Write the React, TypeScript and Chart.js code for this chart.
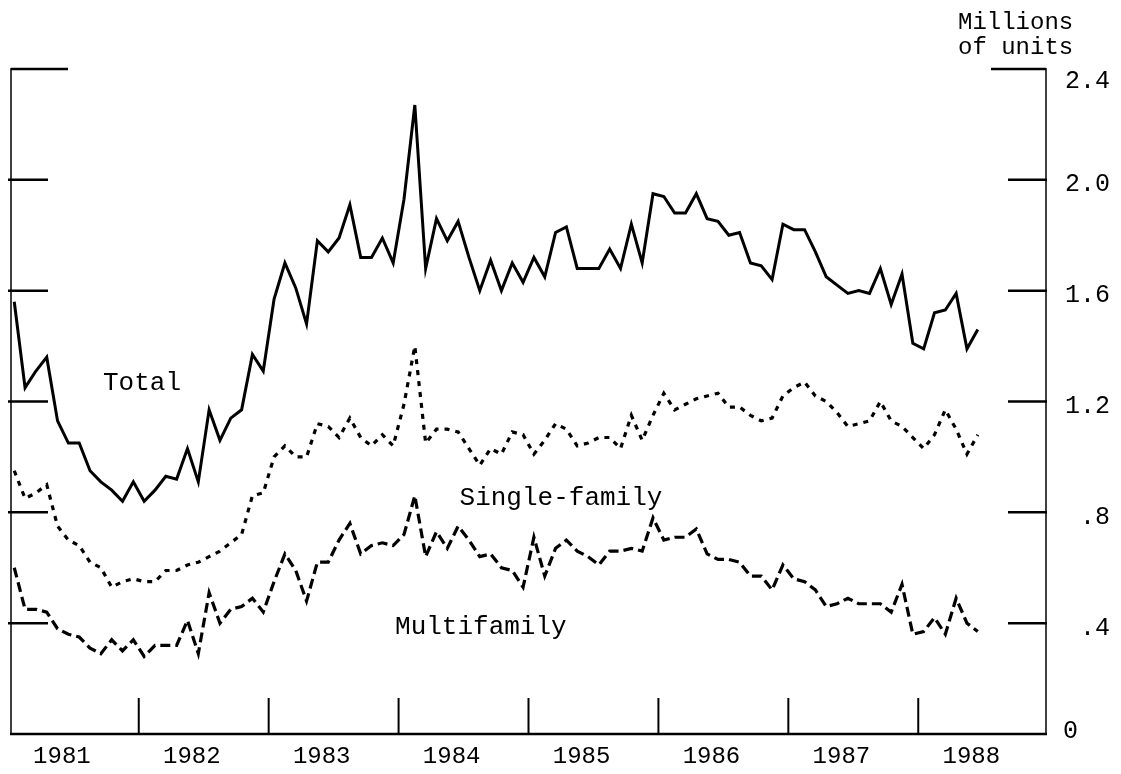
import { useEffect, useRef } from "react";
import { Chart, registerables } from "chart.js";

Chart.register(...registerables);

// ---- Data -------------------------------------------------------------
const years = [1981, 1982, 1983, 1984, 1985, 1986, 1987, 1988];
const monthNames = ["Jan", "Feb", "Mar", "Apr", "May", "Jun", "Jul", "Aug", "Sep", "Oct", "Nov", "Dec"];
// Monthly observations, January 1981 through June 1988
const months = years.flatMap((y) => monthNames.map((m) => `${m} ${y}`)).slice(0, 90);

// Housing starts, millions of units (seasonally adjusted annual rate)
const total = [
  1.56, 1.25, 1.31, 1.36, 1.13, 1.05, 1.05, 0.95, 0.91, 0.88, 0.84, 0.91,
  0.84, 0.88, 0.93, 0.92, 1.03, 0.91, 1.17, 1.06, 1.14, 1.17, 1.37, 1.31,
  1.57, 1.70, 1.61, 1.48, 1.78, 1.74, 1.79, 1.91, 1.72, 1.72, 1.79, 1.70,
  1.93, 2.27, 1.68, 1.86, 1.78, 1.85, 1.72, 1.60, 1.71, 1.60, 1.70, 1.63,
  1.72, 1.65, 1.81, 1.83, 1.68, 1.68, 1.68, 1.75, 1.68, 1.84, 1.70, 1.95,
  1.94, 1.88, 1.88, 1.95, 1.86, 1.85, 1.80, 1.81, 1.70, 1.69, 1.64, 1.84,
  1.82, 1.82, 1.74, 1.65, 1.62, 1.59, 1.60, 1.59, 1.68, 1.55, 1.66, 1.41,
  1.39, 1.52, 1.53, 1.59, 1.39, 1.46,
];

const singleFamily = [
  0.95, 0.85, 0.87, 0.90, 0.75, 0.70, 0.68, 0.62, 0.60, 0.53, 0.55, 0.56,
  0.55, 0.55, 0.59, 0.59, 0.61, 0.62, 0.64, 0.66, 0.69, 0.72, 0.86, 0.87,
  1.00, 1.04, 1.00, 1.00, 1.12, 1.11, 1.07, 1.14, 1.07, 1.04, 1.08, 1.04,
  1.19, 1.40, 1.05, 1.10, 1.10, 1.09, 1.03, 0.97, 1.03, 1.01, 1.09, 1.08,
  1.01, 1.06, 1.12, 1.10, 1.04, 1.05, 1.07, 1.07, 1.03, 1.15, 1.06, 1.15,
  1.23, 1.17, 1.19, 1.21, 1.22, 1.23, 1.18, 1.18, 1.15, 1.13, 1.14, 1.22,
  1.25, 1.27, 1.22, 1.20, 1.16, 1.11, 1.12, 1.13, 1.20, 1.13, 1.11, 1.07,
  1.03, 1.08, 1.17, 1.10, 1.01, 1.08,
];

const multifamily = [
  0.60, 0.45, 0.45, 0.44, 0.38, 0.36, 0.35, 0.31, 0.29, 0.34, 0.30, 0.34,
  0.28, 0.32, 0.32, 0.32, 0.41, 0.29, 0.51, 0.40, 0.45, 0.46, 0.49, 0.44,
  0.55, 0.65, 0.59, 0.48, 0.62, 0.62, 0.70, 0.76, 0.65, 0.68, 0.69, 0.68,
  0.72, 0.86, 0.64, 0.73, 0.67, 0.75, 0.70, 0.64, 0.65, 0.60, 0.59, 0.53,
  0.71, 0.57, 0.67, 0.70, 0.66, 0.64, 0.61, 0.66, 0.66, 0.67, 0.66, 0.78,
  0.70, 0.71, 0.71, 0.74, 0.65, 0.63, 0.63, 0.62, 0.57, 0.57, 0.52, 0.61,
  0.56, 0.55, 0.52, 0.46, 0.47, 0.49, 0.47, 0.47, 0.47, 0.44, 0.54, 0.36,
  0.37, 0.42, 0.36, 0.49, 0.40, 0.37,
];

const yTicks = [0, 0.4, 0.8, 1.2, 1.6, 2.0, 2.4];
const yTickLabels = ["0", ".4", ".8", "1.2", "1.6", "2.0", "2.4"];
const seriesNames = ["Total", "Single-family", "Multifamily"];
const unitTitle = ["Millions", "of units"];

// ---- Chart ------------------------------------------------------------
const FONT = "'Liberation Mono', 'DejaVu Sans Mono', monospace";

const decorPlugin = {
  id: "decor",
  afterDatasetsDraw(chart: any) {
    const { ctx, chartArea: a, scales } = chart;
    const xs = scales.x;
    const ys = scales.y;
    const top = ys.getPixelForValue(yTicks[yTicks.length - 1]);
    const bot = ys.getPixelForValue(0);
    const seg = (x1: number, y1: number, x2: number, y2: number, w: number) => {
      ctx.lineWidth = w;
      ctx.beginPath();
      ctx.moveTo(x1, y1);
      ctx.lineTo(x2, y2);
      ctx.stroke();
    };
    ctx.save();
    ctx.strokeStyle = "#000";
    ctx.fillStyle = "#000";
    ctx.lineCap = "butt";

    // frame
    seg(a.left, top - 1, a.left, bot, 1.5);
    seg(a.left, top, a.left + 57, top, 2.5);
    seg(a.right, top - 1, a.right, bot, 1.5);
    seg(a.right - 55, top, a.right, top, 2.5);
    seg(a.left - 1, bot, a.right + 1, bot, 2.5);

    // inward y ticks, both sides
    yTicks.slice(1, -1).forEach((v) => {
      const py = ys.getPixelForValue(v);
      seg(a.left - 3, py, a.left + 37, py, 2.5);
      seg(a.right - 38, py, a.right + 1, py, 2.5);
    });

    // year boundary ticks
    years.slice(1).forEach((_, k) => {
      const px = xs.getPixelForValue(12 * (k + 1) - 0.5);
      seg(px, bot - 36, px, bot, 2);
    });

    // year labels
    ctx.font = `24px ${FONT}`;
    ctx.textAlign = "center";
    ctx.textBaseline = "middle";
    years.forEach((yr, k) => {
      ctx.fillText(String(yr), xs.getPixelForValue(12 * k + 4.4), bot + 23);
    });

    // right-hand value labels
    ctx.font = `25px ${FONT}`;
    yTicks.forEach((v, k) => {
      const py = ys.getPixelForValue(v);
      if (v === 0) {
        ctx.textAlign = "left";
        ctx.fillText(yTickLabels[k], a.right + 17, py - 3);
      } else {
        ctx.textAlign = "right";
        ctx.fillText(yTickLabels[k], a.right + 64, py + (k === yTicks.length - 1 ? 12 : 5));
      }
    });

    // unit title
    ctx.font = `24px ${FONT}`;
    ctx.textAlign = "left";
    ctx.fillText(unitTitle[0], a.right - 88, top - 46);
    ctx.fillText(unitTitle[1], a.right - 88, top - 21);

    // series labels (anchored in data coordinates)
    const anchors = [
      [11.8, 1.267],
      [50.5, 0.852],
      [43.1, 0.386],
    ];
    ctx.font = `26px ${FONT}`;
    ctx.textAlign = "center";
    seriesNames.forEach((name, k) => {
      ctx.fillText(name, xs.getPixelForValue(anchors[k][0]), ys.getPixelForValue(anchors[k][1]));
    });
    ctx.restore();
  },
};

export default function App() {
  const canvasRef = useRef<HTMLCanvasElement | null>(null);

  useEffect(() => {
    const canvas = canvasRef.current;
    if (!canvas) return;
    const toXY = (arr: number[]) => arr.map((v, i) => ({ x: i, y: v, label: months[i] }));
    const chart = new Chart(canvas, {
      type: "line",
      data: {
        datasets: [
          {
            label: seriesNames[0],
            data: toXY(total),
            borderColor: "#000",
            borderWidth: 3,
            pointRadius: 0,
            tension: 0,
            fill: false,
          },
          {
            label: seriesNames[1],
            data: toXY(singleFamily),
            borderColor: "#000",
            borderWidth: 3.2,
            borderDash: [5, 6],
            pointRadius: 0,
            tension: 0,
            fill: false,
          },
          {
            label: seriesNames[2],
            data: toXY(multifamily),
            borderColor: "#000",
            borderWidth: 3.2,
            borderDash: [10, 5],
            pointRadius: 0,
            tension: 0,
            fill: false,
          },
        ],
      },
      options: {
        responsive: false,
        animation: false,
        events: [],
        layout: { padding: { left: 11, right: 75, top: 69, bottom: 40 } },
        scales: {
          x: { type: "linear", min: -0.3, max: 95.3, display: false },
          y: { type: "linear", min: 0, max: 2.4, display: false },
        },
        plugins: {
          legend: { display: false },
          tooltip: { enabled: false },
        },
      },
      plugins: [decorPlugin],
    });
    return () => chart.destroy();
  }, []);

  return (
    <div style={{ position: "absolute", left: 0, top: 0, width: 1121, height: 774, background: "#fff" }}>
      <canvas ref={canvasRef} width={1121} height={774} style={{ display: "block" }} />
    </div>
  );
}
